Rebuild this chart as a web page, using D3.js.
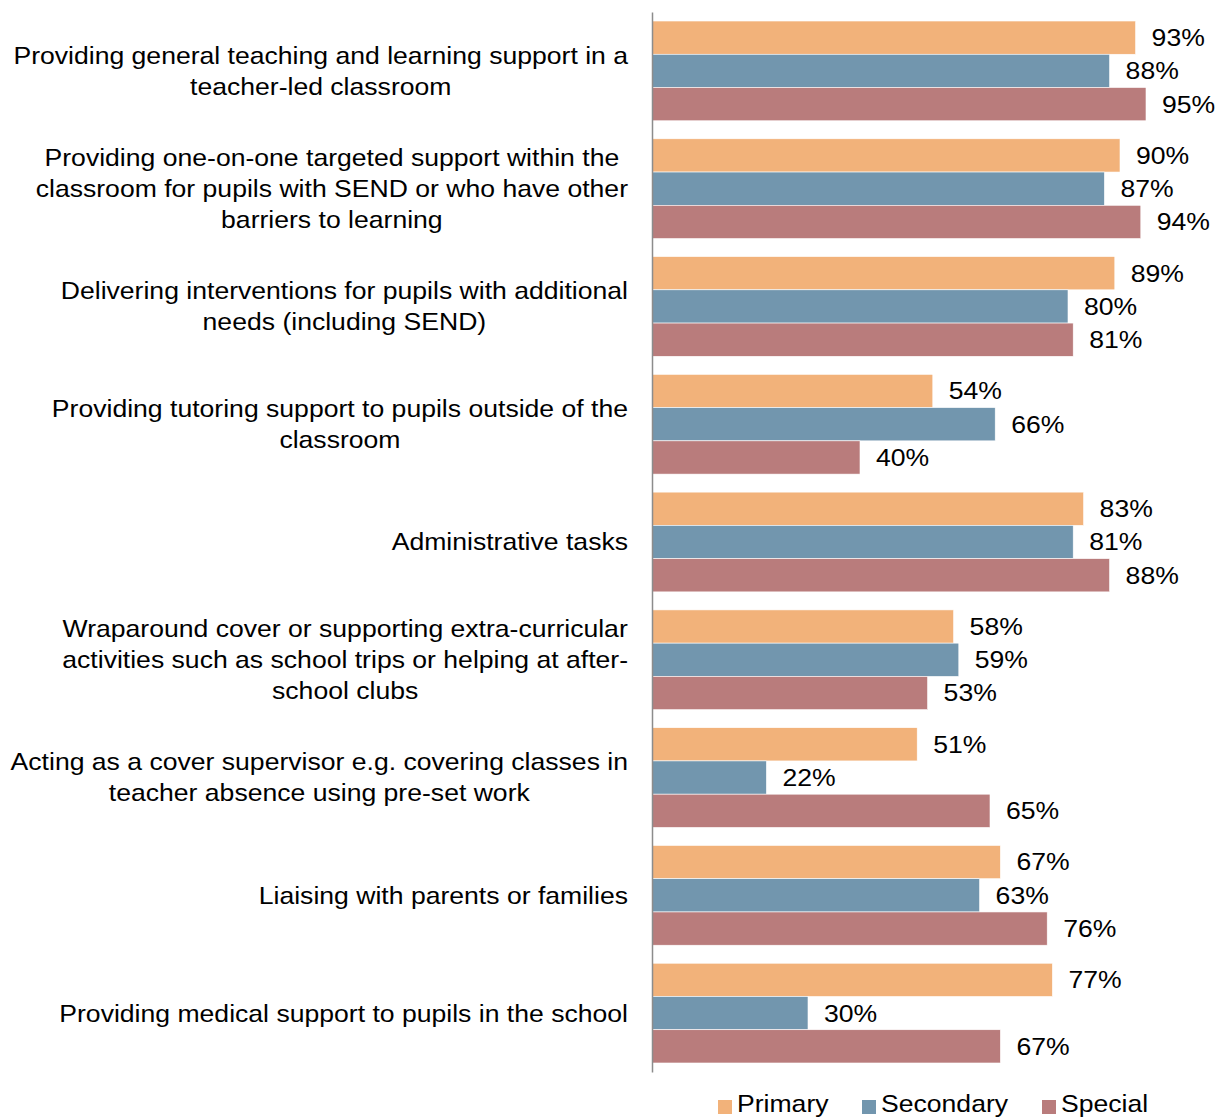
<!DOCTYPE html>
<html><head><meta charset="utf-8">
<script src="https://cdn.jsdelivr.net/npm/d3@7"></script>
<style>body{margin:0;background:#fff}svg{display:block}text{font-family:"Liberation Sans",Arial,sans-serif}</style>
</head><body>
<svg id="c" width="1217" height="1118"></svg>
<script>
const categories = [
  ["Providing general teaching and learning support in a","teacher-led classroom"],
  ["Providing one-on-one targeted support within the","classroom for pupils with SEND or who have other","barriers to learning"],
  ["Delivering interventions for pupils with additional","needs (including SEND)"],
  ["Providing tutoring support to pupils outside of the","classroom"],
  ["Administrative tasks"],
  ["Wraparound cover or supporting extra-curricular","activities such as school trips or helping at after-","school clubs"],
  ["Acting as a cover supervisor e.g. covering classes in","teacher absence using pre-set work"],
  ["Liaising with parents or families"],
  ["Providing medical support to pupils in the school"]
];
const seriesNames = ["Primary","Secondary","Special"];
const primary   = [93,90,89,54,83,58,51,67,77];
const secondary = [88,87,80,66,81,59,22,63,30];
const special   = [95,94,81,40,88,53,65,76,67];
const colors = ["#F2B27A","#7296AE","#B97C7C"];

const FS = 24, SX = 1.108;
const svg = d3.select("#c");
const x = d3.scaleLinear().domain([0,100]).range([652,1172]);
const y = d3.scaleBand().domain(d3.range(categories.length)).range([12,1072]).paddingInner(0.153).paddingOuter(0.0765);
const ys = d3.scaleBand().domain(d3.range(3)).range([0,y.bandwidth()]);
const series = [primary, secondary, special];

// helper: stretched text
function stext(parent, px, py, str, anchor) {
  return parent.append("text")
    .attr("transform", `translate(${px},${py}) scale(${SX},1)`)
    .attr("text-anchor", anchor || "start")
    .attr("dy", "0.35em")
    .attr("font-size", FS).attr("fill", "#000").text(str);
}

const g = svg.append("g");
series.forEach((vals, s) => {
  g.selectAll(null).data(vals).enter().append("rect")
    .attr("x", x(0))
    .attr("y", (d,i) => y(i) + ys(s))
    .attr("width", d => x(d) - x(0))
    .attr("height", ys.bandwidth())
    .attr("fill", colors[s])
    .attr("stroke", "#fff").attr("stroke-width", 0.6);
  vals.forEach((d, i) => {
    stext(g, x(d) + 16, y(i) + ys(s) + ys.bandwidth()/2, d + "%");
  });
});

// category labels: centered lines, block right-aligned at 628
categories.forEach((lines, i) => {
  const cy = y(i) + y.bandwidth()/2;
  const lh = 31;
  const nodes = lines.map((ln, k) => stext(svg, 0, cy + (k - (lines.length-1)/2)*lh, ln, "middle"));
  const maxW = d3.max(nodes, n => n.node().getComputedTextLength()) * SX;
  const cx = 628 - maxW/2;
  nodes.forEach((n, k) => n.attr("transform", `translate(${cx},${cy + (k - (lines.length-1)/2)*lh}) scale(${SX},1)`));
});

// axis line
const axis = d3.axisLeft(d3.scaleLinear().range([12,1072])).ticks(0).tickSize(0).tickFormat("");
svg.append("g").attr("transform",`translate(${x(0)},0)`).call(axis)
  .select(".domain").attr("stroke","#8c8c8c").attr("stroke-width",1.5);

// legend
const legX = [718, 862, 1042];
seriesNames.forEach((n, s) => {
  svg.append("rect").attr("x", legX[s]).attr("y", 1100).attr("width", 14).attr("height", 14).attr("fill", colors[s]);
  stext(svg, legX[s] + 19, 1104, n);
});
</script>
</body></html>
